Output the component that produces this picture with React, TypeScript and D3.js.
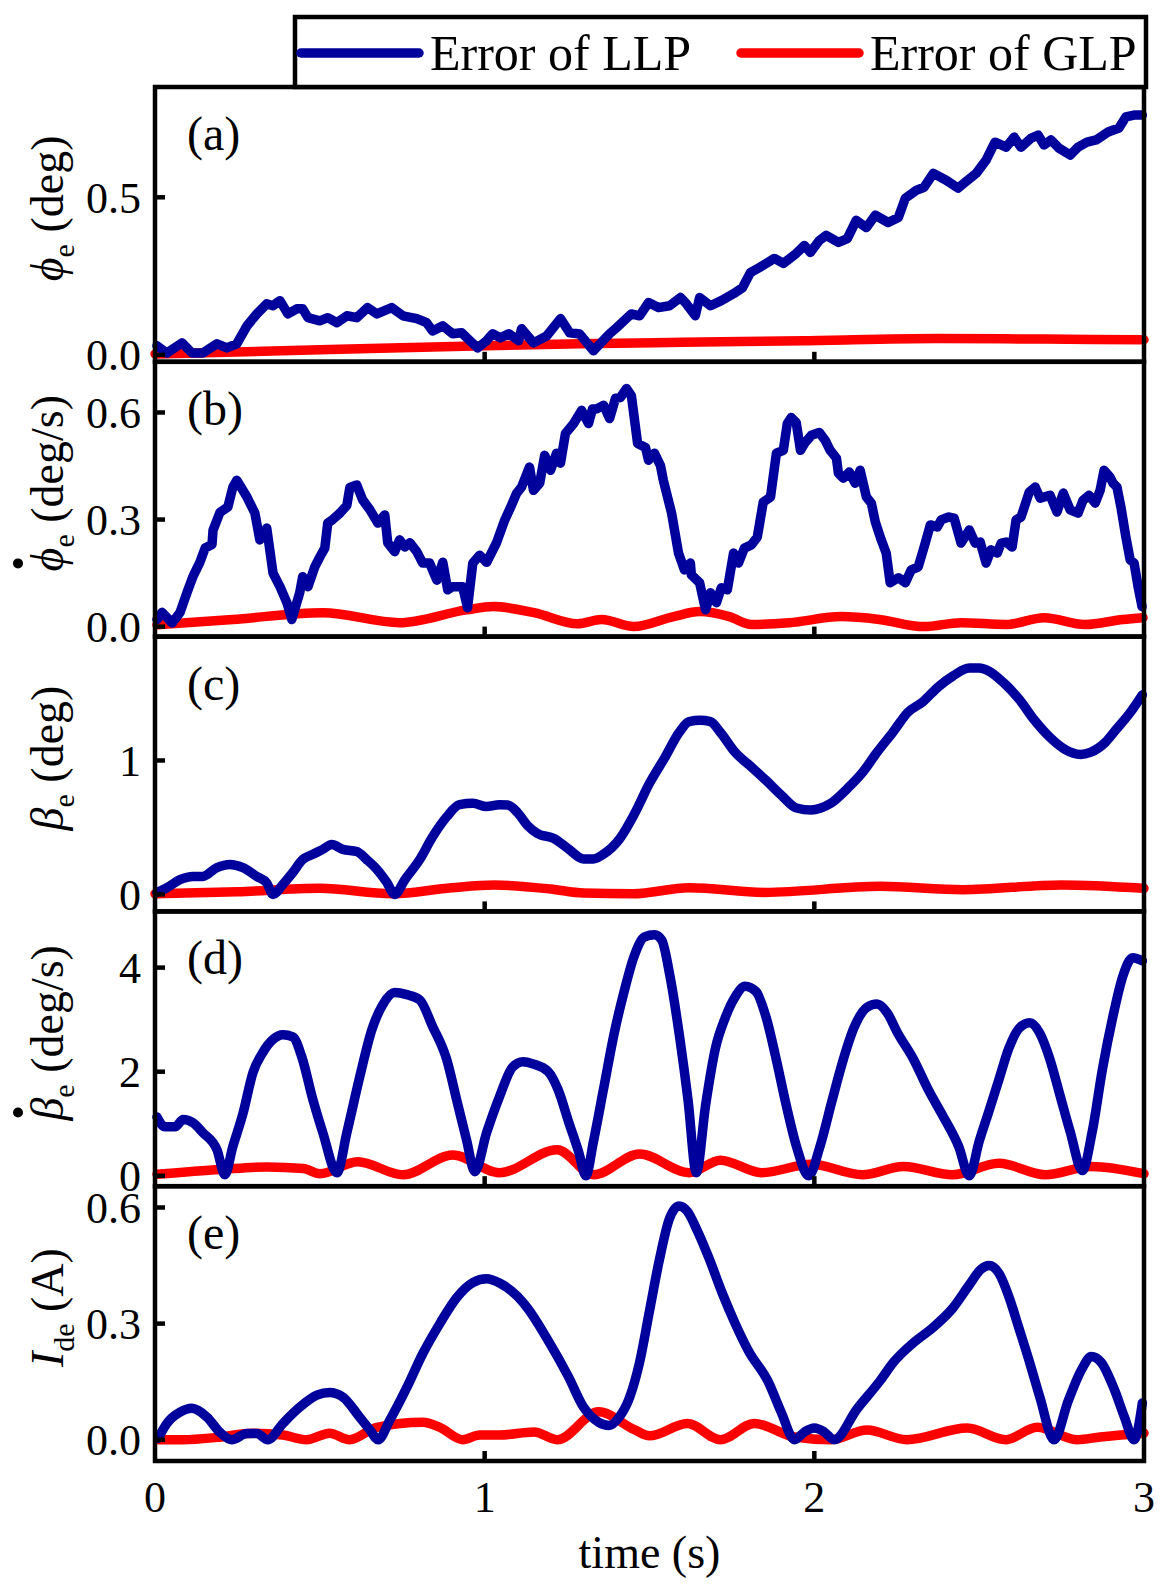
import React, { useRef, useEffect } from 'react';
import * as d3 from 'd3';

// time axis
const timeTicks = [0, 1, 2, 3];

// (a) roll angle error
const rollLLP: [number, number][] = [
  [0.006, 0.029], [0.036, 0.006], [0.082, 0.038], [0.112, 0.006], [0.145, 0.006], [0.188, 0.035],
  [0.218, 0.022], [0.248, 0.035], [0.279, 0.092], [0.309, 0.13], [0.339, 0.162], [0.358, 0.156],
  [0.379, 0.172], [0.403, 0.13], [0.43, 0.146], [0.448, 0.146], [0.464, 0.118], [0.5, 0.108],
  [0.524, 0.118], [0.552, 0.102], [0.582, 0.124], [0.612, 0.118], [0.645, 0.15], [0.673, 0.13],
  [0.718, 0.15], [0.752, 0.124], [0.794, 0.115], [0.824, 0.102], [0.842, 0.076], [0.873, 0.092],
  [0.903, 0.067], [0.93, 0.07], [0.955, 0.045], [0.979, 0.022], [1.006, 0.045], [1.024, 0.067],
  [1.048, 0.054], [1.073, 0.067], [1.103, 0.045], [1.112, 0.083], [1.148, 0.038], [1.188, 0.06],
  [1.23, 0.115], [1.258, 0.07], [1.288, 0.066], [1.33, 0.013], [1.379, 0.067], [1.4, 0.086],
  [1.445, 0.13], [1.47, 0.124], [1.497, 0.166], [1.527, 0.15], [1.561, 0.156], [1.594, 0.182],
  [1.612, 0.162], [1.639, 0.124], [1.652, 0.182], [1.685, 0.156], [1.718, 0.172], [1.755, 0.194],
  [1.782, 0.213], [1.806, 0.261], [1.833, 0.277], [1.879, 0.306], [1.906, 0.29], [1.945, 0.322],
  [1.97, 0.347], [1.988, 0.325], [2.015, 0.363], [2.036, 0.379], [2.073, 0.357], [2.1, 0.369],
  [2.127, 0.427], [2.158, 0.404], [2.185, 0.443], [2.224, 0.42], [2.255, 0.436], [2.276, 0.497],
  [2.309, 0.522], [2.333, 0.532], [2.361, 0.576], [2.4, 0.554], [2.436, 0.529], [2.458, 0.548],
  [2.491, 0.576], [2.521, 0.618], [2.548, 0.675], [2.582, 0.659], [2.606, 0.691], [2.627, 0.659],
  [2.658, 0.688], [2.679, 0.697], [2.697, 0.666], [2.718, 0.682], [2.742, 0.656], [2.776, 0.634],
  [2.8, 0.659], [2.827, 0.675], [2.855, 0.682], [2.891, 0.707], [2.924, 0.72], [2.945, 0.755],
  [2.97, 0.761], [2.995, 0.761],
];
const rollGLP: [number, number][] = [
  [0.0, 0.003], [0.5, 0.016], [1.0, 0.029], [1.29, 0.035], [1.6, 0.04], [1.97, 0.045],
  [2.37, 0.052], [2.7, 0.05], [3.0, 0.048],
];

// (b) roll rate error
const rollRateLLP: [number, number][] = [
  [0.006, 0.02], [0.021, 0.04], [0.052, 0.01], [0.076, 0.04], [0.097, 0.095], [0.115, 0.14],
  [0.136, 0.18], [0.152, 0.22], [0.173, 0.23], [0.176, 0.27], [0.197, 0.32], [0.221, 0.335],
  [0.236, 0.39], [0.248, 0.41], [0.279, 0.363], [0.303, 0.318], [0.318, 0.243], [0.339, 0.276],
  [0.358, 0.15], [0.379, 0.112], [0.4, 0.067], [0.415, 0.02], [0.439, 0.095], [0.448, 0.14],
  [0.464, 0.112], [0.485, 0.168], [0.5, 0.195], [0.515, 0.22], [0.524, 0.29], [0.539, 0.3],
  [0.561, 0.318], [0.582, 0.34], [0.591, 0.39], [0.612, 0.397], [0.63, 0.355], [0.652, 0.327],
  [0.676, 0.29], [0.697, 0.313], [0.706, 0.235], [0.727, 0.21], [0.742, 0.243], [0.758, 0.223],
  [0.773, 0.235], [0.794, 0.21], [0.812, 0.178], [0.833, 0.178], [0.855, 0.13], [0.873, 0.18],
  [0.888, 0.103], [0.903, 0.112], [0.933, 0.112], [0.948, 0.053], [0.964, 0.178], [0.985, 0.2],
  [1.006, 0.18], [1.036, 0.235], [1.061, 0.299], [1.079, 0.335], [1.097, 0.374], [1.112, 0.391],
  [1.136, 0.447], [1.148, 0.382], [1.167, 0.402], [1.182, 0.48], [1.2, 0.438], [1.218, 0.486],
  [1.23, 0.458], [1.245, 0.541], [1.27, 0.569], [1.294, 0.606], [1.315, 0.569], [1.327, 0.61],
  [1.339, 0.61], [1.361, 0.62], [1.379, 0.583], [1.397, 0.64], [1.412, 0.642], [1.43, 0.667],
  [1.445, 0.647], [1.464, 0.513], [1.488, 0.502], [1.497, 0.466], [1.515, 0.486], [1.533, 0.452],
  [1.542, 0.41], [1.567, 0.318], [1.588, 0.206], [1.606, 0.159], [1.624, 0.178], [1.627, 0.145],
  [1.652, 0.123], [1.67, 0.047], [1.685, 0.095], [1.703, 0.067], [1.718, 0.109], [1.736, 0.103],
  [1.755, 0.206], [1.77, 0.178], [1.788, 0.22], [1.809, 0.229], [1.827, 0.251], [1.845, 0.349],
  [1.867, 0.363], [1.885, 0.486], [1.906, 0.494], [1.918, 0.569], [1.93, 0.586], [1.945, 0.572],
  [1.958, 0.494], [1.97, 0.513], [1.991, 0.536], [2.015, 0.544], [2.033, 0.522], [2.048, 0.494],
  [2.067, 0.472], [2.073, 0.43], [2.088, 0.416], [2.106, 0.433], [2.124, 0.402], [2.139, 0.438],
  [2.158, 0.363], [2.173, 0.346], [2.185, 0.293], [2.203, 0.243], [2.218, 0.206], [2.23, 0.123],
  [2.255, 0.137], [2.276, 0.123], [2.294, 0.159], [2.315, 0.167], [2.333, 0.223], [2.352, 0.285],
  [2.373, 0.279], [2.385, 0.299], [2.406, 0.307], [2.424, 0.304], [2.445, 0.234], [2.47, 0.271],
  [2.488, 0.234], [2.503, 0.237], [2.521, 0.178], [2.536, 0.215], [2.555, 0.206], [2.567, 0.234],
  [2.582, 0.237], [2.6, 0.223], [2.612, 0.299], [2.627, 0.307], [2.652, 0.377], [2.67, 0.391],
  [2.685, 0.36], [2.715, 0.368], [2.736, 0.321], [2.755, 0.374], [2.776, 0.327], [2.8, 0.318],
  [2.815, 0.354], [2.833, 0.368], [2.852, 0.346], [2.867, 0.382], [2.879, 0.438], [2.897, 0.419],
  [2.906, 0.402], [2.918, 0.391], [2.93, 0.335], [2.945, 0.251], [2.958, 0.187], [2.97, 0.178],
  [2.982, 0.112], [2.994, 0.056],
];
const rollRateGLP: [number, number][] = [
  [0.006, 0.005], [0.236, 0.02], [0.509, 0.039], [0.742, 0.011], [0.945, 0.047], [1.027, 0.056],
  [1.15, 0.039], [1.282, 0.008], [1.355, 0.02], [1.452, 0.0], [1.573, 0.028], [1.652, 0.042],
  [1.742, 0.028], [1.809, 0.006], [1.924, 0.011], [2.082, 0.028], [2.197, 0.02], [2.333, 0.0],
  [2.445, 0.011], [2.582, 0.006], [2.697, 0.025], [2.821, 0.006], [2.936, 0.02], [2.997, 0.025],
];

// (c) flapping angle error
const betaLLP: [number, number][] = [
  [0.006, 0.015], [0.036, 0.05], [0.076, 0.11], [0.115, 0.134], [0.145, 0.134], [0.188, 0.2],
  [0.227, 0.224], [0.267, 0.2], [0.309, 0.134], [0.339, 0.085], [0.358, 0.0], [0.388, 0.075],
  [0.418, 0.164], [0.448, 0.26], [0.479, 0.3], [0.509, 0.336], [0.536, 0.373], [0.57, 0.336],
  [0.612, 0.32], [0.642, 0.26], [0.673, 0.187], [0.703, 0.09], [0.727, 0.0], [0.758, 0.11],
  [0.803, 0.26], [0.842, 0.43], [0.885, 0.58], [0.924, 0.67], [0.964, 0.68], [1.006, 0.656],
  [1.045, 0.67], [1.07, 0.667], [1.1, 0.61], [1.13, 0.515], [1.16, 0.455], [1.21, 0.417],
  [1.254, 0.34], [1.3, 0.265], [1.33, 0.265], [1.36, 0.3], [1.41, 0.417], [1.454, 0.6],
  [1.5, 0.83], [1.546, 1.02], [1.59, 1.21], [1.62, 1.29], [1.654, 1.3], [1.685, 1.29],
  [1.715, 1.21], [1.76, 1.06], [1.81, 0.95], [1.854, 0.85], [1.9, 0.74], [1.946, 0.645],
  [1.99, 0.63], [2.02, 0.645], [2.05, 0.68], [2.1, 0.79], [2.146, 0.91], [2.19, 1.06],
  [2.238, 1.21], [2.284, 1.36], [2.33, 1.44], [2.376, 1.55], [2.42, 1.63], [2.47, 1.69],
  [2.5, 1.69], [2.53, 1.667], [2.576, 1.576], [2.622, 1.455], [2.668, 1.3], [2.714, 1.174],
  [2.76, 1.083], [2.807, 1.045], [2.837, 1.06], [2.883, 1.136], [2.914, 1.227], [2.96, 1.364],
  [2.995, 1.49],
];
const betaGLP: [number, number][] = [
  [0.0, 0.005], [0.25, 0.02], [0.5, 0.045], [0.72, 0.005], [0.9, 0.05], [1.03, 0.07],
  [1.2, 0.04], [1.3, 0.01], [1.45, 0.005], [1.62, 0.05], [1.85, 0.015], [2.2, 0.06],
  [2.45, 0.035], [2.75, 0.07], [3.0, 0.045],
];

// (d) flapping rate error
const betaRateLLP: [number, number][] = [
  [0.006, 1.13], [0.03, 0.94], [0.061, 0.94], [0.085, 1.08], [0.115, 1.02], [0.145, 0.83],
  [0.188, 0.5], [0.212, 0.02], [0.236, 0.56], [0.267, 1.2], [0.297, 1.98], [0.327, 2.37],
  [0.358, 2.62], [0.388, 2.71], [0.418, 2.67], [0.445, 2.29], [0.479, 1.46], [0.509, 0.83],
  [0.552, 0.06], [0.582, 0.83], [0.621, 1.9], [0.658, 2.81], [0.691, 3.29], [0.727, 3.52],
  [0.764, 3.48], [0.803, 3.38], [0.842, 2.87], [0.885, 2.23], [0.915, 1.46], [0.945, 0.69],
  [0.97, 0.08], [1.006, 0.83], [1.045, 1.52], [1.085, 2.09], [1.116, 2.19], [1.147, 2.15],
  [1.193, 2.0], [1.223, 1.65], [1.254, 1.05], [1.285, 0.46], [1.307, 0.0], [1.33, 0.66],
  [1.36, 1.65], [1.393, 2.74], [1.423, 3.54], [1.454, 4.23], [1.485, 4.59], [1.515, 4.63],
  [1.537, 4.53], [1.562, 3.84], [1.592, 2.64], [1.617, 1.45], [1.642, 0.06], [1.67, 1.35],
  [1.7, 2.45], [1.73, 3.04], [1.76, 3.44], [1.79, 3.64], [1.823, 3.54], [1.854, 3.04],
  [1.884, 2.25], [1.915, 1.35], [1.946, 0.56], [1.983, 0.0], [2.017, 0.56], [2.054, 1.45],
  [2.084, 2.15], [2.12, 2.84], [2.16, 3.24], [2.19, 3.3], [2.22, 3.14], [2.253, 2.74],
  [2.3, 2.25], [2.346, 1.65], [2.39, 1.15], [2.438, 0.56], [2.47, 0.0], [2.5, 0.66],
  [2.53, 1.25], [2.56, 1.85], [2.59, 2.45], [2.622, 2.84], [2.653, 2.94], [2.684, 2.74],
  [2.714, 2.25], [2.745, 1.55], [2.776, 0.85], [2.813, 0.1], [2.843, 0.85], [2.874, 2.05],
  [2.905, 3.04], [2.936, 3.84], [2.966, 4.19], [2.995, 4.13],
];
const betaRateGLP: [number, number][] = [
  [0.006, 0.03], [0.2, 0.12], [0.34, 0.17], [0.45, 0.14], [0.5, 0.04], [0.615, 0.27],
  [0.752, 0.02], [0.903, 0.4], [1.045, 0.06], [1.22, 0.5], [1.33, 0.02], [1.47, 0.42],
  [1.62, 0.06], [1.715, 0.3], [1.84, 0.06], [1.99, 0.22], [2.146, 0.02], [2.27, 0.18],
  [2.42, 0.02], [2.56, 0.24], [2.7, 0.02], [2.84, 0.18], [3.0, 0.04],
];

// (e) current error
const currentLLP: [number, number][] = [
  [0.01, 0.004], [0.036, 0.042], [0.076, 0.071], [0.112, 0.081], [0.158, 0.058], [0.197, 0.019],
  [0.233, 0.0], [0.279, 0.016], [0.309, 0.016], [0.342, 0.0], [0.388, 0.042], [0.439, 0.084],
  [0.491, 0.115], [0.53, 0.122], [0.57, 0.11], [0.621, 0.058], [0.652, 0.025], [0.677, 0.0],
  [0.712, 0.05], [0.764, 0.135], [0.812, 0.222], [0.864, 0.3], [0.915, 0.367], [0.964, 0.406],
  [1.006, 0.416], [1.045, 0.405], [1.1, 0.37], [1.13, 0.34], [1.19, 0.26], [1.254, 0.163],
  [1.3, 0.084], [1.346, 0.045], [1.377, 0.037], [1.408, 0.058], [1.44, 0.11], [1.47, 0.2],
  [1.5, 0.333], [1.53, 0.465], [1.56, 0.57], [1.59, 0.604], [1.615, 0.59], [1.645, 0.54],
  [1.68, 0.47], [1.72, 0.38], [1.76, 0.3], [1.8, 0.23], [1.86, 0.15], [1.9, 0.07],
  [1.94, 0.0], [1.97, 0.02], [2.0, 0.03], [2.03, 0.02], [2.06, 0.0], [2.13, 0.08],
  [2.2, 0.153], [2.24, 0.2], [2.3, 0.25], [2.36, 0.29], [2.42, 0.34], [2.47, 0.4],
  [2.505, 0.44], [2.53, 0.45], [2.56, 0.43], [2.59, 0.37], [2.62, 0.29], [2.653, 0.2],
  [2.684, 0.11], [2.727, 0.0], [2.77, 0.1], [2.81, 0.18], [2.84, 0.215], [2.87, 0.2],
  [2.91, 0.13], [2.94, 0.06], [2.97, 0.0], [2.995, 0.095],
];
const currentGLP: [number, number][] = [
  [0.01, 0.0], [0.085, 0.0], [0.188, 0.006], [0.297, 0.017], [0.388, 0.012], [0.46, 0.0],
  [0.53, 0.017], [0.59, 0.0], [0.673, 0.032], [0.812, 0.045], [0.864, 0.032], [0.933, 0.0],
  [0.985, 0.012], [1.045, 0.012], [1.15, 0.02], [1.22, 0.0], [1.346, 0.072], [1.454, 0.026],
  [1.5, 0.01], [1.615, 0.042], [1.715, 0.0], [1.818, 0.042], [1.94, 0.007], [2.05, 0.0],
  [2.16, 0.025], [2.28, 0.0], [2.464, 0.03], [2.58, 0.0], [2.676, 0.032], [2.797, 0.0],
  [2.867, 0.007], [3.0, 0.017],
];

const rollTicks = [0, 0.5];
const rollRateTicks = [0, 0.3, 0.6];
const betaTicks = [0, 1];
const betaRateTicks = [0, 2, 4];
const currentTicks = [0, 0.3, 0.6];

const seriesNames = ['Error of LLP', 'Error of GLP'];
const LLP_COLOR = '#00009c';
const GLP_COLOR = '#ff0000';
const FONT = "'Liberation Serif', 'Times New Roman', serif";

type Title = { sym: string; sub: string; unit: string; dot: boolean };

const panels = [
  { tag: '(a)', llp: rollLLP, glp: rollGLP, domain: [-0.022, 0.85], ticks: rollTicks, fmt: '.1f', smooth: false,
    title: { sym: '\u03D5', sub: 'e', unit: ' (deg)', dot: false } as Title },
  { tag: '(b)', llp: rollRateLLP, glp: rollRateGLP, domain: [-0.028, 0.742], ticks: rollRateTicks, fmt: '.1f', smooth: false,
    title: { sym: '\u03D5', sub: 'e', unit: ' (deg/s)', dot: true } as Title },
  { tag: '(c)', llp: betaLLP, glp: betaGLP, domain: [-0.127, 1.925], ticks: betaTicks, fmt: 'd', smooth: true,
    title: { sym: '\u03B2', sub: 'e', unit: ' (deg)', dot: false } as Title },
  { tag: '(d)', llp: betaRateLLP, glp: betaRateGLP, domain: [-0.2, 5.08], ticks: betaRateTicks, fmt: 'd', smooth: true,
    title: { sym: '\u03B2', sub: 'e', unit: ' (deg/s)', dot: true } as Title },
  { tag: '(e)', llp: currentLLP, glp: currentGLP, domain: [-0.055, 0.655], ticks: currentTicks, fmt: '.1f', smooth: true,
    title: { sym: 'I', sub: 'de', unit: ' (A)', dot: false } as Title },
];

const ErrorPanels: React.FC = () => {
  const svgRef = useRef<SVGSVGElement | null>(null);

  useEffect(() => {
    const svg = d3.select(svgRef.current);
    svg.selectAll('*').remove();

    const width = 1168;
    const height = 1593;
    const left = 155;
    const right = 1144;
    const top0 = 87;
    const panelH = 274.8;
    const frameW = 4.5;

    svg.attr('width', width).attr('height', height).style('background', '#fff');

    const x = d3.scaleLinear().domain([0, 3]).range([left, right]);

    panels.forEach((p, i) => {
      const top = top0 + i * panelH;
      const bottom = top + panelH;
      const y = d3.scaleLinear().domain(p.domain).range([bottom, top]);
      const g = svg.append('g');

      const line = d3.line<[number, number]>()
        .x(d => x(d[0]))
        .y(d => y(d[1]))
        .curve(p.smooth ? d3.curveMonotoneX : d3.curveLinear);
      const smoothLine = d3.line<[number, number]>()
        .x(d => x(d[0]))
        .y(d => y(d[1]))
        .curve(d3.curveMonotoneX);

      g.append('path')
        .attr('d', smoothLine(p.glp))
        .attr('fill', 'none')
        .attr('stroke', GLP_COLOR)
        .attr('stroke-width', 9.5)
        .attr('stroke-linejoin', 'round')
        .attr('stroke-linecap', 'round');

      g.append('path')
        .attr('d', line(p.llp))
        .attr('fill', 'none')
        .attr('stroke', LLP_COLOR)
        .attr('stroke-width', 9.5)
        .attr('stroke-linejoin', 'round')
        .attr('stroke-linecap', 'round');

      // frame
      g.append('rect')
        .attr('x', left)
        .attr('y', top)
        .attr('width', right - left)
        .attr('height', panelH)
        .attr('fill', 'none')
        .attr('stroke', '#000')
        .attr('stroke-width', frameW);

      // y ticks (inward)
      const fmt = d3.format(p.fmt);
      p.ticks.forEach(t => {
        g.append('line')
          .attr('x1', left).attr('x2', left + 10)
          .attr('y1', y(t)).attr('y2', y(t))
          .attr('stroke', '#000').attr('stroke-width', frameW);
        g.append('text')
          .attr('x', 141)
          .attr('y', y(t))
          .attr('dy', '0.35em')
          .attr('text-anchor', 'end')
          .style('font-family', FONT)
          .style('font-size', '44px')
          .text(fmt(t));
      });

      // x ticks (inward)
      timeTicks.slice(1, -1).forEach(t => {
        g.append('line')
          .attr('x1', x(t)).attr('x2', x(t))
          .attr('y1', bottom).attr('y2', bottom - 10)
          .attr('stroke', '#000').attr('stroke-width', frameW);
      });

      // panel tag
      g.append('text')
        .attr('x', 187)
        .attr('y', top + 63)
        .style('font-family', FONT)
        .style('font-size', '48px')
        .text(p.tag);

      // y title, rotated
      const tg = g.append('g')
        .attr('transform', `translate(63,${top + panelH / 2 - 16}) rotate(-90)`);
      const title = tg.append('text')
        .attr('text-anchor', 'middle')
        .style('font-family', FONT)
        .style('font-size', '46px');
      title.append('tspan').style('font-style', 'italic').text(p.title.sym);
      title.append('tspan').style('font-size', '30px').attr('dy', 11).text(p.title.sub);
      title.append('tspan').attr('dy', -11).text(p.title.unit);
      if (p.title.dot) {
        // time-derivative dot above the symbol
        const node = title.node() as SVGTextElement;
        const start = node.getStartPositionOfChar(0);
        tg.append('circle')
          .attr('cx', start.x + 8)
          .attr('cy', -45)
          .attr('r', 5)
          .attr('fill', '#000');
      }
    });

    // x tick labels on the bottom panel
    const bottomY = top0 + 5 * panelH;
    timeTicks.forEach(t => {
      svg.append('text')
        .attr('x', x(t))
        .attr('y', bottomY + 51)
        .attr('text-anchor', 'middle')
        .style('font-family', FONT)
        .style('font-size', '44px')
        .text(t);
    });

    svg.append('text')
      .attr('x', (left + right) / 2)
      .attr('y', 1568)
      .attr('text-anchor', 'middle')
      .style('font-family', FONT)
      .style('font-size', '46px')
      .text('time (s)');

    // legend
    const legend = svg.append('g');
    legend.append('rect')
      .attr('x', 295)
      .attr('y', 17)
      .attr('width', 851)
      .attr('height', 70)
      .attr('fill', '#fff')
      .attr('stroke', '#000')
      .attr('stroke-width', frameW);
    const entries = [
      { name: seriesNames[0], color: LLP_COLOR, x0: 301 },
      { name: seriesNames[1], color: GLP_COLOR, x0: 741 },
    ];
    entries.forEach(e => {
      legend.append('line')
        .attr('x1', e.x0).attr('x2', e.x0 + 118)
        .attr('y1', 53).attr('y2', 53)
        .attr('stroke', e.color)
        .attr('stroke-width', 9.5)
        .attr('stroke-linecap', 'round');
      legend.append('text')
        .attr('x', e.x0 + 129)
        .attr('y', 70)
        .style('font-family', FONT)
        .style('font-size', '50px')
        .text(e.name);
    });
  }, []);

  return <svg ref={svgRef} style={{ position: 'absolute', left: 0, top: 0 }}></svg>;
};

export default ErrorPanels;
